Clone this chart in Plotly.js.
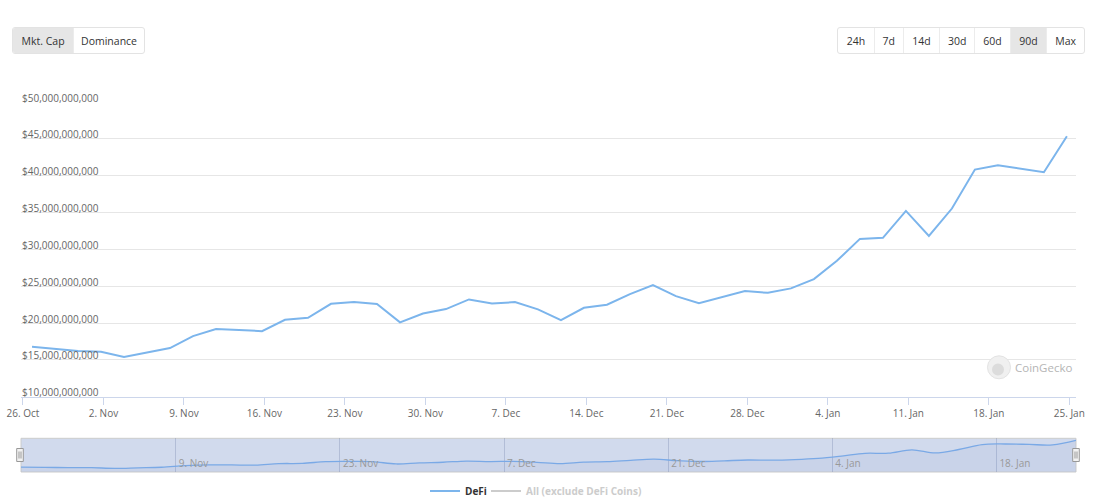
<!DOCTYPE html>
<html><head><meta charset="utf-8">
<script src="https://cdn.plot.ly/plotly-3.0.1.min.js"></script>
<style>
html,body{margin:0;padding:0;background:#fff;}
#wrap{position:relative;width:1102px;height:503px;font-family:'Open Sans',sans-serif;}
#chart{position:absolute;left:0;top:0;width:1102px;height:503px;}
.grp{position:absolute;top:27px;height:27px;display:flex;border:1px solid #e3e3e3;border-radius:3px;overflow:hidden;background:#fff;box-sizing:border-box;z-index:5;}
.grp div{display:flex;align-items:center;justify-content:center;font-size:10.5px;color:#333;box-sizing:border-box;border-left:1px solid #ececec;}
.grp div:first-child{border-left:none;}
.grp .on{background:#e6e6e6;}
</style></head>
<body>
<div id="wrap">
  <div id="chart"></div>
  <div class="grp" style="left:12px;width:133px;">
    <div class="on" style="width:61px;">Mkt. Cap</div>
    <div style="width:72px;">Dominance</div>
  </div>
  <div class="grp" style="left:837px;width:248px;">
    <div style="width:36px;">24h</div>
    <div style="width:29.5px;">7d</div>
    <div style="width:36.5px;">14d</div>
    <div style="width:35.5px;">30d</div>
    <div style="width:35.5px;">60d</div>
    <div class="on" style="width:37px;">90d</div>
    <div style="width:38px;">Max</div>
  </div>
</div>
<script>
const dates = [
 '2020-10-26 19:00','2020-10-28 19:00','2020-10-30 19:00','2020-11-01 19:00','2020-11-03 19:00',
 '2020-11-05 19:00','2020-11-07 19:00','2020-11-09 19:00','2020-11-11 19:00','2020-11-13 19:00',
 '2020-11-15 19:00','2020-11-17 19:00','2020-11-19 19:00','2020-11-21 19:00','2020-11-23 19:00',
 '2020-11-25 19:00','2020-11-27 19:00','2020-11-29 19:00','2020-12-01 19:00','2020-12-03 19:00',
 '2020-12-05 19:00','2020-12-07 19:00','2020-12-09 19:00','2020-12-11 19:00','2020-12-13 19:00',
 '2020-12-15 19:00','2020-12-17 19:00','2020-12-19 19:00','2020-12-21 19:00','2020-12-23 19:00',
 '2020-12-25 19:00','2020-12-27 19:00','2020-12-29 19:00','2020-12-31 19:00','2021-01-02 19:00',
 '2021-01-04 19:00','2021-01-06 19:00','2021-01-08 19:00','2021-01-10 19:00','2021-01-12 19:00',
 '2021-01-14 19:00','2021-01-16 19:00','2021-01-18 19:00','2021-01-20 19:00','2021-01-22 19:00',
 '2021-01-24 19:00'
];
const defiMarketCap = [
 16.78e9,16.47e9,16.2e9,16.1e9,15.38e9,
 16.0e9,16.6e9,18.23e9,19.18e9,19.04e9,
 18.9e9,20.44e9,20.7e9,22.61e9,22.84e9,
 22.57e9,20.09e9,21.3e9,21.89e9,23.2e9,
 22.66e9,22.84e9,21.85e9,20.4e9,22.07e9,
 22.48e9,23.93e9,25.15e9,23.65e9,22.7e9,
 23.48e9,24.33e9,24.1e9,24.7e9,25.96e9,
 28.44e9,31.42e9,31.56e9,35.22e9,31.83e9,
 35.54e9,40.83e9,41.42e9,40.97e9,40.47e9,
 45.35e9
];
const seriesNames = ['DeFi','All (exclude DeFi Coins)'];
const rangeButtons = ['24h','7d','14d','30d','60d','90d','Max'];

const DAY = 86400000;
const traces = [
  {x:dates, y:defiMarketCap, xaxis:'x', yaxis:'y', type:'scatter', mode:'lines',
   name:seriesNames[0], legend:'legend', line:{color:'#7cb5ec', width:2}},
  {x:[null], y:[null], xaxis:'x', yaxis:'y', type:'scatter', mode:'lines',
   name:seriesNames[1], legend:'legend2', line:{color:'#cccccc', width:2}},
  {x:dates, y:defiMarketCap, xaxis:'x2', yaxis:'y2', type:'scatter', mode:'lines',
   showlegend:false, line:{color:'#7aa9e6', width:1.3, shape:'spline'},
   fill:'tozeroy', fillcolor:'rgba(51,92,173,0.05)'}
];

const L = 21, R = 26, T = 102, B = 31, W = 1102, H = 503;
const PW = W - L - R, PH = H - T - B;
const px = v => (v - L) / PW;
const py = v => (H - B - v) / PH;

function handle(xa, dx0, dx1) {
  return [
    {type:'rect', xref:'paper', yref:'paper', xsizemode:'pixel', ysizemode:'pixel',
     xanchor:xa, yanchor:py(455), x0:dx0, x1:dx1, y0:-6.5, y1:6.5,
     fillcolor:'#f2f2f2', line:{color:'#999999', width:1}, layer:'above'},
    {type:'line', xref:'paper', yref:'paper', xsizemode:'pixel', ysizemode:'pixel',
     xanchor:xa, yanchor:py(455), x0:(dx0+dx1)/2-1, x1:(dx0+dx1)/2-1, y0:-3.5, y1:3.5,
     line:{color:'#999999', width:1}, layer:'above'},
    {type:'line', xref:'paper', yref:'paper', xsizemode:'pixel', ysizemode:'pixel',
     xanchor:xa, yanchor:py(455), x0:(dx0+dx1)/2+1, x1:(dx0+dx1)/2+1, y0:-3.5, y1:3.5,
     line:{color:'#999999', width:1}, layer:'above'}
  ];
}

const shapes = [
  {type:'rect', xref:'x2 domain', yref:'y2 domain', x0:0, x1:1, y0:0, y1:1,
   fillcolor:'rgb(209,218,237)', line:{color:'#cccccc', width:1}, layer:'below'},
  ...handle(0, -4.3, 2.3),
  ...handle(1, -3.3, 3.3),
  {type:'circle', xref:'paper', yref:'paper', xsizemode:'pixel', ysizemode:'pixel',
   xanchor:px(999), yanchor:py(367.3), x0:-11.5, x1:11.5, y0:-11.5, y1:11.5,
   fillcolor:'#f0f0f0', line:{color:'#e3e3e3', width:1}, layer:'above'},
  {type:'circle', xref:'paper', yref:'paper', xsizemode:'pixel', ysizemode:'pixel',
   xanchor:px(998), yanchor:py(368.5), x0:-6, x1:6, y0:-7, y1:5,
   fillcolor:'#dcdcdc', line:{width:0}, layer:'above'}
];

const layout = {
  width:W, height:H,
  margin:{l:L, r:R, t:T, b:B, pad:0, autoexpand:false},
  paper_bgcolor:'#ffffff', plot_bgcolor:'rgba(0,0,0,0)',
  font:{family:'Open Sans, sans-serif', size:10, color:'#666666'},
  showlegend:true,
  xaxis:{type:'date', anchor:'y', domain:[0,1],
    range:['2020-10-25 20:00','2021-01-25 14:00'],
    tick0:'2020-10-26', dtick:7*DAY, tickformat:'%-d. %b',
    showgrid:false, showline:true, linecolor:'#ccd6eb', linewidth:1,
    ticks:'outside', ticklen:7, tickcolor:'#ccd6eb', tickwidth:1,
    tickfont:{size:10, color:'#666666'}, zeroline:false, fixedrange:true, automargin:false},
  yaxis:{anchor:'x', domain:[py(396.7),1], range:[10e9,50e9],
    tick0:0, dtick:5e9, tickprefix:'$', tickformat:',.0f',
    ticklabelposition:'inside top', ticklabeloverflow:'allow', ticklabelstandoff:-2,
    ticklabelshift:3,
    gridcolor:'#e6e6e6', gridwidth:1, showline:false, zeroline:false, ticks:'',
    tickfont:{size:10, color:'#666666'}, fixedrange:true, automargin:false},
  xaxis2:{type:'date', anchor:'y2', domain:[0,1],
    range:[dates[0], dates[dates.length-1]],
    tick0:'2020-11-09', dtick:14*DAY, tickformat:'%-d. %b',
    ticklabelposition:'inside right', ticklabeloverflow:'allow',
    ticklabelstandoff:-3, ticklabelshift:3,
    showgrid:true, gridcolor:'rgba(120,135,175,0.35)', gridwidth:1,
    showline:false, ticks:'', zeroline:false,
    tickfont:{size:10, color:'#999999'}, fixedrange:true, automargin:false},
  yaxis2:{anchor:'x2', domain:[0,py(438.3)], range:[11.5e9,47.5e9], visible:false, fixedrange:true},
  legend:{orientation:'h', x:px(425), xanchor:'left', y:py(491), yanchor:'middle',
    font:{size:10, color:'#333333', weight:700}, bgcolor:'rgba(0,0,0,0)', itemwidth:30},
  legend2:{orientation:'h', x:px(486), xanchor:'left', y:py(491), yanchor:'middle',
    font:{size:10, color:'#cccccc', weight:700}, bgcolor:'rgba(0,0,0,0)', itemwidth:30},
  shapes:shapes,
  annotations:[
    {text:'CoinGecko', xref:'paper', yref:'paper', x:px(1013), y:py(367.3),
     xanchor:'left', yanchor:'middle', showarrow:false,
     font:{size:11.5, color:'#b5b5b5', family:'Open Sans, sans-serif'}}
  ]
};

Plotly.newPlot('chart', traces, layout, {displayModeBar:false, staticPlot:true});
</script>
</body></html>
